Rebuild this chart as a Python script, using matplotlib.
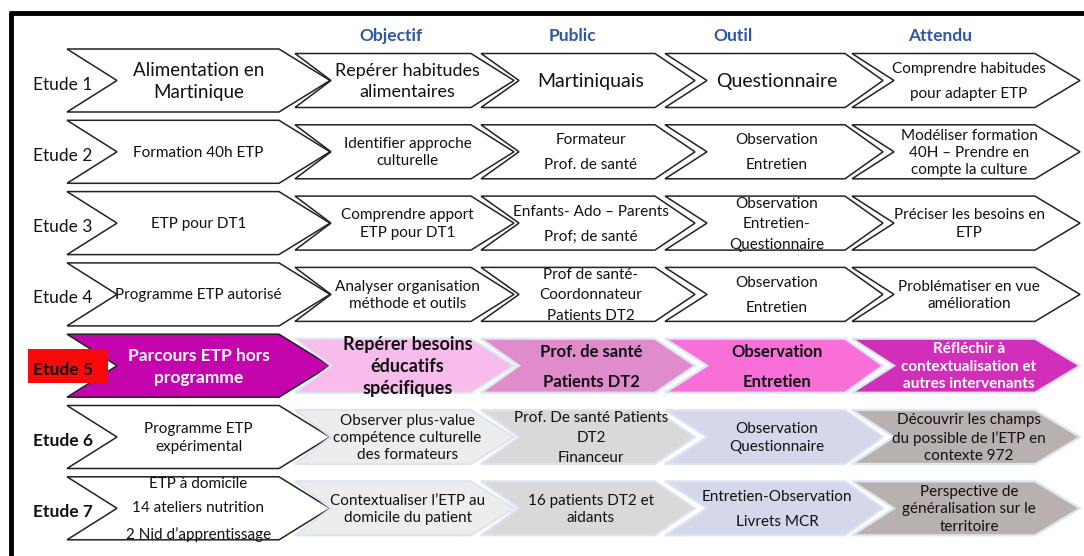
import matplotlib
matplotlib.use("Agg")
import matplotlib.pyplot as plt
from matplotlib.patches import Polygon, Rectangle

plt.rcParams['font.family'] = ['Lato', 'DejaVu Sans']

# ---------------- data ----------------
headers = ["Objectif", "Public", "Outil", "Attendu"]
etudes = ["Etude 1", "Etude 2", "Etude 3", "Etude 4", "Etude 5", "Etude 6", "Etude 7"]
themes = [
    "Alimentation en\nMartinique",
    "Formation 40h ETP",
    "ETP pour DT1",
    "Programme ETP autorisé",
    "Parcours ETP hors\nprogramme",
    "Programme ETP\nexpérimental",
    "ETP à domicile\n14 ateliers nutrition\n2 Nid d’apprentissage",
]
objectifs = [
    "Repérer habitudes\nalimentaires",
    "Identifier approche\nculturelle",
    "Comprendre apport\nETP pour DT1",
    "Analyser organisation\nméthode et outils",
    "Repérer besoins\néducatifs\nspécifiques",
    "Observer plus-value\ncompétence culturelle\ndes formateurs",
    "Contextualiser l’ETP au\ndomicile du patient",
]
publics = [
    "Martiniquais",
    "Formateur\nProf. de santé",
    "Enfants- Ado – Parents\nProf; de santé",
    "Prof de santé-\nCoordonnateur\nPatients DT2",
    "Prof. de santé\nPatients DT2",
    "Prof. De santé Patients\nDT2\nFinanceur",
    "16 patients DT2 et\naidants",
]
outils = [
    "Questionnaire",
    "Observation\nEntretien",
    "Observation\nEntretien-\nQuestionnaire",
    "Observation\nEntretien",
    "Observation\nEntretien",
    "Observation\nQuestionnaire",
    "Entretien-Observation\nLivrets MCR",
]
attendus = [
    "Comprendre habitudes\npour adapter ETP",
    "Modéliser formation\n40H – Prendre en\ncompte la culture",
    "Préciser les besoins en\nETP",
    "Problématiser en vue\namélioration",
    "Réfléchir à\ncontextualisation et\nautres intervenants",
    "Découvrir les champs\ndu possible de l’ETP en\ncontexte 972",
    "Perspective de\ngénéralisation sur le\nterritoire",
]

# ---------------- styles ----------------
W, H = 1084, 556
fig = plt.figure(figsize=(W / 100, H / 100), dpi=100)
ax = fig.add_axes([0, 0, 1, 1])
ax.set_xlim(0, W)
ax.set_ylim(H, 0)
ax.axis('off')

row_top0, row_period, row_h = 49, 71.3, 63
# (left, right corner, tip depth, notch depth)
cols = [(67, 279, 51, 50), (295, 471, 43, 36), (481, 655, 40, 38),
        (665, 845, 38, 42), (852, 1035, 45, 42)]
inset = 4.5
header_x = [391, 572, 733, 940]

sizes = [
    [13.5, 13, 14, 14, 11],
    [11, 11, 11, 11, 11],
    [11, 11, 11, 11, 11],
    [11, 11, 11, 11, 11],
    [12.5, 13, 12, 12, 11],
    [11, 11, 11, 11, 11],
    [11, 11, 11, 11, 11],
]
spacing = [
    [1.3, 1.35, 1.2, 1.2, 2.0],
    [1.2, 1.3, 2.0, 2.0, 1.3],
    [1.2, 1.3, 2.0, 1.6, 1.3],
    [1.2, 1.3, 1.6, 2.0, 1.3],
    [1.45, 1.35, 2.1, 2.1, 1.3],
    [1.3, 1.3, 1.55, 1.3, 1.3],
    [1.95, 1.3, 1.3, 2.0, 1.3],
]
white = 'white'
fills = [
    [white] * 5, [white] * 5, [white] * 5, [white] * 5,
    ['#C405AE', '#F8BCEC', '#E08BCB', '#F76FD7', '#D12FB9'],
    [white, '#EDEDED', '#D9D9D9', '#D4D8EA', '#B9B1AF'],
    [white, '#EDEDED', '#D9D9D9', '#D4D8EA', '#B9B1AF'],
]
txtcol = [['#111111'] * 5] * 4 + [[white, '#111111', '#111111', '#111111', white]] + [['#111111'] * 5] * 2
bold_rows = [4]
etude_bold = [False, False, False, False, True, True, True]

# ---------------- frame ----------------
ax.plot([11, 11], [12, H], color='black', lw=3.5, solid_capstyle='butt')
ax.plot([9, W], [12.5, 12.5], color='black', lw=3.5, solid_capstyle='butt')

for i, h in enumerate(headers):
    ax.text(header_x[i], 36, h, ha='center', va='center', fontsize=12.5,
            fontweight='bold', color='#2E58A3')

cell_texts = [themes, objectifs, publics, outils, attendus]

for r in range(7):
    y0 = row_top0 + r * row_period
    y1 = y0 + row_h
    ym = (y0 + y1) / 2
    for c, (L, R, d, n) in enumerate(cols):
        t0, t1 = (y0, y1) if c == 0 else (y0 + inset, y1 - inset)
        pts = [(L, t0), (R, t0), (R + d, ym), (R, t1), (L, t1), (L + n, ym)]
        fc = fills[r][c]
        if fc == white or (r == 4 and c == 0):
            ec, lw = '#222222', 1.1
        else:
            ec, lw = '#DDE5F3', 1.6
        ax.add_patch(Polygon(pts, closed=True, facecolor=fc, edgecolor=ec,
                             lw=lw, joinstyle='miter', zorder=2))
        cx = (L + R + d) / 2 + (3 if c > 0 else 0)
        ax.text(cx, ym + 1, cell_texts[c][r], ha='center', va='center',
                fontsize=sizes[r][c], linespacing=spacing[r][c],
                fontweight='bold' if r in bold_rows else 'normal',
                color=txtcol[r][c], zorder=4)
    if r == 4:
        ax.add_patch(Rectangle((28, 349), 80, 34, facecolor='#F80A0A',
                               edgecolor='none', zorder=3))
    ax.text(63, ym + 4, etudes[r], ha='center', va='center', fontsize=12.5,
            fontweight='bold' if etude_bold[r] else 'normal',
            color='#111111', zorder=4)

fig.savefig('out.png', dpi=100)
